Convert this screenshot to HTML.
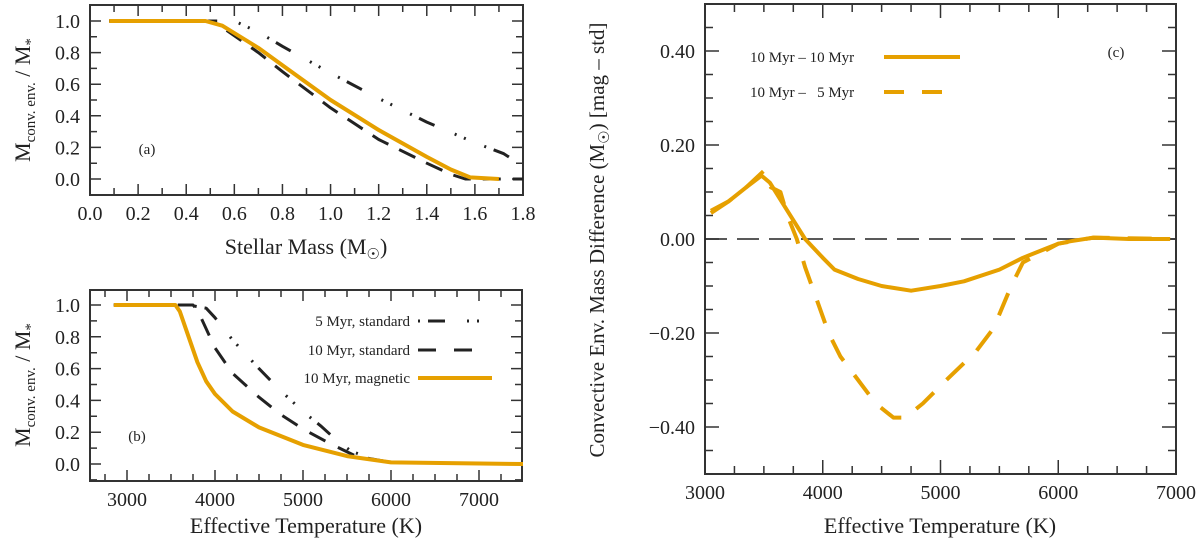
<!DOCTYPE html>
<html><head><meta charset="utf-8">
<style>
html,body{margin:0;padding:0;background:#fff;}
svg{display:block;}
svg text{font-family:"Liberation Serif","DejaVu Serif",serif;fill:#222;}
</style></head>
<body>
<svg id="fig" width="1200" height="546" viewBox="0 0 1200 546" xmlns="http://www.w3.org/2000/svg">
<g id="pa"></g>
<g id="pb"></g>
<g id="pc"></g>

<text x="147" y="154" font-size="15" text-anchor="middle">(a)</text>
<text x="137" y="441" font-size="15" text-anchor="middle">(b)</text>
<text x="1116" y="57" font-size="15" text-anchor="middle">(c)</text>

<text x="306" y="254" font-size="22" text-anchor="middle">Stellar Mass (M<tspan font-size="15" dy="5">☉</tspan><tspan dy="-5">)</tspan></text>
<text x="306" y="533" font-size="22" text-anchor="middle">Effective Temperature (K)</text>
<text x="940" y="533" font-size="22" text-anchor="middle">Effective Temperature (K)</text>

<text transform="translate(30,100) rotate(-90)" font-size="22" text-anchor="middle">M<tspan font-size="15" dy="5">conv. env.</tspan><tspan dy="-5"> / M</tspan><tspan font-size="15" dy="5">*</tspan></text>
<text transform="translate(30,385) rotate(-90)" font-size="22" text-anchor="middle">M<tspan font-size="15" dy="5">conv. env.</tspan><tspan dy="-5"> / M</tspan><tspan font-size="15" dy="5">*</tspan></text>
<text transform="translate(604,240) rotate(-90)" font-size="21" text-anchor="middle">Convective Env. Mass Difference (M<tspan font-size="15" dy="5">☉</tspan><tspan dy="-5">) [mag – std]</tspan></text>

<g>
<text x="410" y="326" font-size="15" text-anchor="end">5 Myr, standard</text>
<line x1="418" y1="321" x2="492" y2="321" stroke="#222" stroke-width="3" stroke-dasharray="2,8,17,22,2,8,2,20"/>
<text x="410" y="355" font-size="15" text-anchor="end">10 Myr, standard</text>
<line x1="418" y1="350" x2="490" y2="350" stroke="#222" stroke-width="3" stroke-dasharray="18,18"/>
<text x="410" y="383" font-size="15" text-anchor="end">10 Myr, magnetic</text>
<line x1="418" y1="378" x2="492" y2="378" stroke="#e6a000" stroke-width="4"/>
</g>
<g>
<text x="750" y="62" font-size="15">10 Myr – 10 Myr</text>
<line x1="884" y1="57" x2="960" y2="57" stroke="#e6a000" stroke-width="4"/>
<text x="750" y="97" font-size="15">10 Myr – &#160; 5 Myr</text>
<line x1="884" y1="92" x2="960" y2="92" stroke="#e6a000" stroke-width="4" stroke-dasharray="20,18"/>
</g>
</svg>
<script>
// Panel (a) data: stellar mass vs convective envelope fraction
const massA5std = [0.08,0.55,0.6,0.7,0.8,1.0,1.2,1.4,1.6,1.72,1.76,1.8];
const fracA5std = [1.0,1.0,1.0,0.93,0.84,0.67,0.51,0.36,0.23,0.16,0.12,0.1];
const massA10std = [0.08,0.5,0.55,0.7,0.8,1.0,1.2,1.4,1.5,1.56,1.8];
const fracA10std = [1.0,1.0,0.96,0.8,0.68,0.45,0.25,0.1,0.03,0.0,0.0];
const massA10mag = [0.08,0.48,0.55,0.7,0.8,1.0,1.2,1.4,1.5,1.58,1.7];
const fracA10mag = [1.0,1.0,0.97,0.83,0.72,0.5,0.31,0.14,0.06,0.01,0.0];
// Panel (b) data: Teff vs convective envelope fraction
const teffB5std = [2850,3700,3900,4000,4200,4500,4730,5000,5200,5400,5550,5800,6000,7500];
const fracB5std = [1.0,1.0,0.98,0.92,0.78,0.6,0.47,0.33,0.24,0.14,0.08,0.03,0.01,0.0];
const teffB10std = [2850,3750,3800,3900,4000,4200,4500,4750,5000,5300,5600,5800,6000,7500];
const fracB10std = [1.0,1.0,0.97,0.85,0.73,0.57,0.42,0.31,0.22,0.13,0.05,0.03,0.01,0.0];
const teffB10mag = [2850,3550,3600,3700,3800,3900,4000,4200,4500,5000,5500,6000,7500];
const fracB10mag = [1.0,1.0,0.96,0.8,0.64,0.52,0.44,0.33,0.23,0.12,0.05,0.01,0.0];
// Panel (c) data: Teff vs mass difference
const teffC1010 = [3050,3200,3350,3480,3550,3700,3850,4000,4100,4300,4500,4750,5000,5200,5500,5700,5900,6000,6100,6300,6600,6950];
const diffC1010 = [0.055,0.08,0.11,0.135,0.12,0.06,0.0,-0.04,-0.065,-0.085,-0.1,-0.11,-0.1,-0.09,-0.065,-0.04,-0.02,-0.01,-0.005,0.003,0.0,0.0];
const teffC105 = [3050,3200,3350,3500,3560,3640,3700,3780,3850,3950,4050,4150,4300,4450,4600,4700,4850,5050,5300,5450,5600,5700,5850,6000,6300,6950];
const diffC105 = [0.06,0.08,0.11,0.145,0.11,0.1,0.05,0.0,-0.06,-0.13,-0.2,-0.25,-0.3,-0.35,-0.38,-0.38,-0.35,-0.3,-0.24,-0.19,-0.1,-0.05,-0.03,-0.01,0.003,0.0];
// tick labels
const ticksAX = ["0.0","0.2","0.4","0.6","0.8","1.0","1.2","1.4","1.6","1.8"];
const ticksAY = ["0.0","0.2","0.4","0.6","0.8","1.0"];
const ticksBX = ["3000","4000","5000","6000","7000"];
const ticksCY = ["−0.40","−0.20","0.00","0.20","0.40"];
const ticksCX = ["3000","4000","5000","6000","7000"];

const NS="http://www.w3.org/2000/svg";
function mk(tag, parent){const e=document.createElementNS(NS,tag);parent.appendChild(e);return e;}
function lin(d0,d1,r0,r1){return v=>r0+(v-d0)/(d1-d0)*(r1-r0);}

function axes(g, box, xs, ys, xMajor, xMinor, yMajor, yMinor, xLab, yLab, prefix){
  const fr=mk('rect',g);
  fr.setAttribute('x',box.l);fr.setAttribute('y',box.t);fr.setAttribute('width',box.r-box.l);fr.setAttribute('height',box.b-box.t);
  fr.setAttribute('fill','none');fr.setAttribute('stroke','#333');fr.setAttribute('stroke-width','2');
  
  
  let d='';
  for(const [v,len] of xMinor){const x=xs(v); if(x<box.l-0.5||x>box.r+0.5)continue; d+=`M${x},${box.b}v${-len}M${x},${box.t}v${len}`;}
  for(const [v,len] of yMinor){const y=ys(v); if(y<box.t-0.5||y>box.b+0.5)continue; d+=`M${box.l},${y}h${len}M${box.r},${y}h${-len}`;}
  const tk=mk('path',g);tk.setAttribute('d',d);tk.setAttribute('stroke','#333');tk.setAttribute('stroke-width','1.5');tk.setAttribute('fill','none');
  
  
  xLab.forEach((s,i)=>{const t=mk('text',g);t.setAttribute('x',xs(xMajor[i]));t.setAttribute('y',box.b+25);t.setAttribute('font-size','20');t.setAttribute('text-anchor','middle');t.textContent=s;
    
    });
  yLab.forEach((s,i)=>{const t=mk('text',g);t.setAttribute('x',box.l-10);t.setAttribute('y',ys(yMajor[i])+7);t.setAttribute('font-size','20');t.setAttribute('text-anchor','end');t.textContent=s;
    
    });
}
function series(g, xs, ys, X, Y, color, width, dash, name){
  const p=mk('path',g);
  p.setAttribute('d', X.map((x,i)=>(i?'L':'M')+xs(x).toFixed(1)+','+ys(Y[i]).toFixed(1)).join(''));
  p.setAttribute('fill','none');p.setAttribute('stroke',color);p.setAttribute('stroke-width',width);
  p.setAttribute('stroke-linejoin','round');
  if(dash)p.setAttribute('stroke-dasharray',dash);
  
  
}
const ORANGE='#e6a000', DARK='#222';
// Panel a
{
  const g=document.getElementById('pa'); const box={l:90,r:523,t:5,b:195};
  const xs=lin(0,1.8,box.l,box.r), ys=lin(0,1,179,21);
  const xmin=[],ymin=[];
  for(let i=0;i<=18;i++)xmin.push([i*0.1,i%2?7:11]);
  for(let i=-1;i<=11;i++)ymin.push([i*0.1,i%2?7:11]);
  axes(g,box,xs,ys,ticksAX.map(Number),xmin,ticksAY.map(Number),ymin,ticksAX,ticksAY,'panel-a');
  series(g,xs,ys,massA5std,fracA5std,DARK,3,'2,8,17,22,2,8,2,20','series-a-5myr-standard');
  series(g,xs,ys,massA10std,fracA10std,DARK,3,'18,12','series-a-10myr-standard');
  series(g,xs,ys,massA10mag,fracA10mag,ORANGE,4,null,'series-a-10myr-magnetic');
}
// Panel b
{
  const g=document.getElementById('pb'); const box={l:90,r:522,t:290,b:481};
  const xs=lin(3000,7000,127,479), ys=lin(0,1,464,305);
  const xmin=[],ymin=[];
  for(let v=2750;v<=7500;v+=250)xmin.push([v,v%1000===0?11:7]);
  for(let i=-1;i<=11;i++)ymin.push([i*0.1,i%2?7:11]);
  axes(g,box,xs,ys,ticksBX.map(Number),xmin,ticksAY.map(Number),ymin,ticksBX,ticksAY,'panel-b');
  series(g,xs,ys,teffB5std,fracB5std,DARK,3,'2,8,17,22,2,8,2,20','series-b-5myr-standard');
  series(g,xs,ys,teffB10std,fracB10std,DARK,3,'18,14','series-b-10myr-standard');
  series(g,xs,ys,teffB10mag,fracB10mag,ORANGE,4,null,'series-b-10myr-magnetic');
}
// Panel c
{
  const g=document.getElementById('pc'); const box={l:705,r:1176,t:4,b:474};
  const xs=lin(3000,7000,705,1176), ys=lin(-0.5,0.5,474,4);
  const xmin=[],ymin=[];
  for(let v=3000;v<=7000;v+=250)xmin.push([v,v%1000===0?14:8]);
  for(let i=-10;i<=10;i++)ymin.push([i*0.05,i%4===0?14:8]);
  axes(g,box,xs,ys,ticksCX.map(Number),xmin,ticksCY.map(s=>Number(s.replace('−','-'))),ymin,ticksCX,ticksCY,'panel-c');
  const z=mk('line',g);z.setAttribute('x1',xs(3000));z.setAttribute('x2',xs(7000));z.setAttribute('y1',ys(0));z.setAttribute('y2',ys(0));
  z.setAttribute('stroke','#222');z.setAttribute('stroke-width','1.5');z.setAttribute('stroke-dasharray','22,10');
  
  
  series(g,xs,ys,teffC1010,diffC1010,ORANGE,4,null,'series-c-10myr-10myr');
  series(g,xs,ys,teffC105,diffC105,ORANGE,4,'24,18','series-c-10myr-5myr');
}
</script>
</body></html>
